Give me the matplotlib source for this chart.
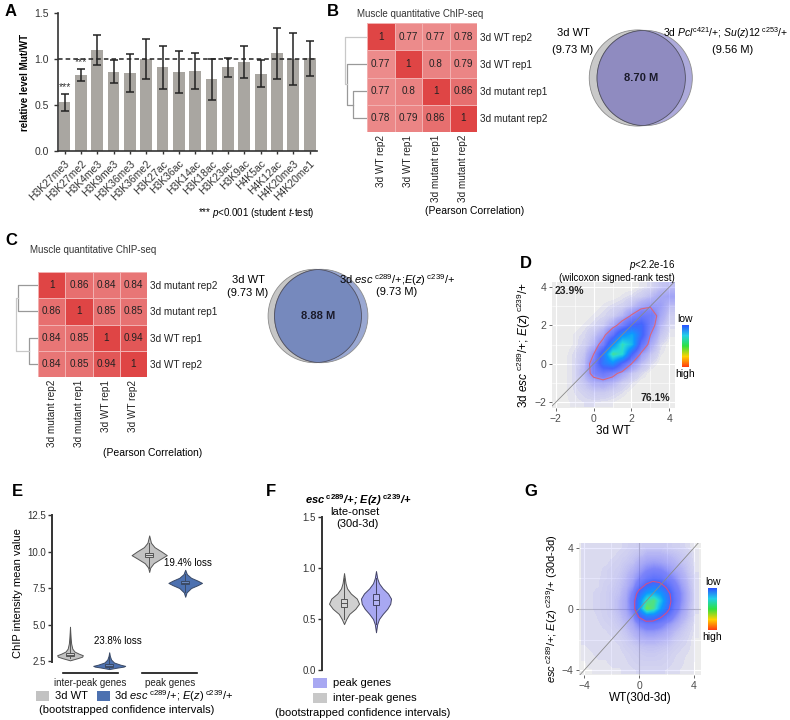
import numpy as np
import matplotlib
matplotlib.use("Agg")
import matplotlib.pyplot as plt
from matplotlib.patches import Circle, Rectangle
from matplotlib.colors import LinearSegmentedColormap, Normalize
from matplotlib.cm import ScalarMappable

plt.rcParams["font.family"] = ["Liberation Sans", "DejaVu Sans"]
plt.rcParams["mathtext.fontset"] = "custom"
plt.rcParams["mathtext.rm"] = "Liberation Sans"
plt.rcParams["mathtext.it"] = "Liberation Sans:italic"
plt.rcParams["mathtext.bf"] = "Liberation Sans:bold"
plt.rcParams["mathtext.bfit"] = "Liberation Sans:bold:italic"

# ---- panel A: histone marks, mutant / WT ----
marks = ["H3K27me3", "H3K27me2", "H3K4me3", "H3K9me3", "H3K36me3", "H3K36me2",
         "H3K27ac", "H3K36ac", "H3K14ac", "H3K18ac", "H3K23ac", "H3K9ac",
         "H4K5ac", "H4K12ac", "H4K20me3", "H4K20me1"]
rel_level = [0.53, 0.83, 1.10, 0.86, 0.85, 1.00, 0.91, 0.86, 0.87, 0.78,
             0.91, 0.97, 0.84, 1.06, 1.00, 1.01]
rel_err = [0.09, 0.065, 0.16, 0.125, 0.205, 0.215, 0.235, 0.225, 0.195, 0.225,
           0.105, 0.175, 0.145, 0.275, 0.285, 0.19]
significant = [True, True] + [False] * 14

# ---- panels B / C: correlation heatmaps and venns ----
b_names = ["3d WT rep2", "3d WT rep1", "3d mutant rep1", "3d mutant rep2"]
b_corr = [[1, 0.77, 0.77, 0.78],
          [0.77, 1, 0.8, 0.79],
          [0.77, 0.8, 1, 0.86],
          [0.78, 0.79, 0.86, 1]]
b_merges = [(2, 3), (1, 4), (0, 5)]
b_venn = (9.73, 9.56, 8.70)

c_names = ["3d mutant rep2", "3d mutant rep1", "3d WT rep1", "3d WT rep2"]
c_corr = [[1, 0.86, 0.84, 0.84],
          [0.86, 1, 0.85, 0.85],
          [0.84, 0.85, 1, 0.94],
          [0.84, 0.85, 0.94, 1]]
c_merges = [(0, 1), (2, 3), (4, 5)]
c_venn = (9.73, 9.73, 8.88)

d_x = [-2, -1.5, -1, -0.5, 0, 0.5, 1, 1.5, 2, 2.5, 3, 3.5, 4]
d_y = [4, 3.5, 3, 2.5, 2, 1.5, 1, 0.5, 0, -0.5, -1, -1.5, -2]
d_dens = [
    [0, 0, 0, 0, 0, 0, 0, 0, 0, 0.05, 0.1, 0.3, 0.4],
    [0, 0, 0, 0, 0, 0, 0, 0.05, 0.1, 0.2, 0.4, 0.8, 0.9],
    [0, 0, 0, 0, 0, 0.05, 0.1, 0.15, 0.35, 0.8, 1.1, 1.0, 0.4],
    [0, 0, 0, 0, 0.05, 0.1, 0.2, 0.5, 1.3, 2.2, 2.0, 0.8, 0.2],
    [0, 0, 0, 0.05, 0.1, 0.25, 0.7, 1.8, 3.5, 3.8, 1.8, 0.5, 0.1],
    [0, 0, 0.05, 0.1, 0.3, 0.8, 2.5, 5.5, 6.5, 4.0, 1.2, 0.3, 0.05],
    [0, 0, 0.05, 0.15, 0.5, 1.8, 5.5, 8.5, 7.0, 2.5, 0.7, 0.1, 0],
    [0, 0.02, 0.1, 0.3, 1.2, 4.5, 9.0, 8.0, 3.5, 1.0, 0.3, 0.05, 0],
    [0, 0.03, 0.1, 0.4, 1.8, 4.5, 5.5, 3.0, 1.2, 0.4, 0.1, 0, 0],
    [0, 0.03, 0.1, 0.5, 1.6, 2.2, 1.6, 0.8, 0.3, 0.1, 0, 0, 0],
    [0, 0.03, 0.1, 0.3, 0.6, 0.7, 0.5, 0.2, 0.08, 0, 0, 0, 0],
    [0.02, 0.03, 0.08, 0.15, 0.25, 0.25, 0.15, 0.08, 0, 0, 0, 0, 0],
    [0.02, 0.03, 0.05, 0.08, 0.08, 0.06, 0.04, 0, 0, 0, 0, 0, 0],
]

# ---- panel E: bootstrapped means (violin outlines: y, relative width) ----
e_wt_inter = ([2.55, 2.7, 2.8, 2.9, 3.0, 3.15, 3.35, 3.7, 4.1, 4.5, 4.85],
              [0, 0.6, 0.95, 1.0, 0.7, 0.35, 0.18, 0.09, 0.05, 0.02, 0])
e_mut_inter = ([1.95, 2.05, 2.12, 2.17, 2.25, 2.4, 2.6, 2.85, 3.1],
               [0, 0.5, 0.9, 1.0, 0.7, 0.3, 0.12, 0.04, 0])
e_wt_peak = ([8.6, 8.9, 9.2, 9.5, 9.75, 10.0, 10.3, 10.6, 11.1],
             [0, 0.06, 0.25, 0.65, 1.0, 0.7, 0.3, 0.1, 0])
e_mut_peak = ([6.9, 7.2, 7.5, 7.7, 7.85, 8.0, 8.2, 8.45, 8.75],
              [0, 0.08, 0.35, 0.75, 1.0, 0.75, 0.35, 0.1, 0])
e_boxes = [(2.82, 2.93, 3.05), (2.1, 2.18, 2.27), (9.6, 9.75, 9.9), (7.75, 7.85, 7.95)]
e_loss = ["23.8% loss", "19.4% loss"]

# ---- panel F: late-onset change ----
f_inter = ([0.45, 0.5, 0.55, 0.6, 0.65, 0.7, 0.75, 0.8, 0.85, 0.9, 0.95],
           [0, 0.15, 0.35, 0.75, 1.0, 0.85, 0.45, 0.2, 0.1, 0.05, 0])
f_peak = ([0.37, 0.45, 0.5, 0.55, 0.6, 0.65, 0.7, 0.75, 0.8, 0.85, 0.9, 0.97],
          [0, 0.08, 0.2, 0.45, 0.75, 0.95, 1.0, 0.8, 0.45, 0.2, 0.08, 0])
f_boxes = [(0.62, 0.66, 0.70), (0.64, 0.69, 0.75)]

# ---- panel G: density of WT vs mutant (30d-3d) ----
g_x = [-4, -3.5, -3, -2.5, -2, -1.5, -1, -0.5, 0, 0.5, 1, 1.5, 2, 2.5, 3, 3.5, 4]
g_y = [4, 3.5, 3, 2.5, 2, 1.5, 1, 0.5, 0, -0.5, -1, -1.5, -2, -2.5, -3, -3.5, -4]
g_dens = [
    [.05, .05, .05, .05, .05, .05, .08, .1, .12, .15, .15, .15, .12, .1, .08, .05, .02],
    [.05, .05, .05, .05, .05, .08, .1, .15, .2, .3, .3, .3, .25, .2, .15, .1, .03],
    [.05, .05, .05, .05, .08, .1, .15, .2, .35, .5, .55, .5, .4, .3, .2, .12, .03],
    [.05, .05, .05, .08, .1, .12, .2, .3, .55, .8, .9, .85, .65, .45, .3, .15, .04],
    [.05, .05, .06, .08, .1, .15, .25, .45, .8, 1.2, 1.4, 1.3, 1.0, .7, .4, .2, .05],
    [.05, .05, .06, .1, .12, .18, .3, .6, 1.3, 2.0, 2.4, 2.2, 1.6, 1.0, .55, .25, .05],
    [.05, .06, .08, .1, .15, .2, .4, .9, 2.3, 3.3, 3.6, 3.2, 2.3, 1.3, .7, .3, .06],
    [.05, .06, .08, .1, .15, .25, .45, 1.1, 3.0, 4.8, 5.2, 4.0, 2.5, 1.4, .7, .3, .06],
    [.05, .06, .08, .1, .15, .25, .45, 1.0, 3.2, 5.6, 5.0, 3.4, 2.2, 1.2, .6, .25, .05],
    [.05, .05, .07, .1, .12, .2, .35, .7, 1.9, 2.7, 2.6, 2.0, 1.4, .8, .4, .2, .04],
    [.05, .05, .06, .08, .1, .15, .25, .45, .9, 1.2, 1.2, 1.0, .7, .45, .25, .12, .03],
    [.05, .05, .05, .06, .08, .1, .18, .3, .5, .65, .65, .55, .4, .25, .15, .08, .03],
    [.05, .05, .05, .05, .06, .08, .12, .2, .3, .35, .35, .3, .25, .15, .1, .06, .02],
    [.04, .05, .05, .05, .05, .06, .1, .12, .18, .2, .2, .18, .15, .1, .07, .05, .02],
    [.03, .04, .05, .05, .05, .05, .07, .1, .12, .14, .14, .12, .1, .07, .05, .04, .02],
    [.02, .03, .04, .04, .05, .05, .06, .08, .1, .1, .1, .1, .08, .06, .05, .03, .02],
    [.02, .02, .03, .03, .04, .04, .05, .06, .07, .07, .07, .07, .06, .05, .04, .03, .02],
]

W, H = 790, 720
fig = plt.figure(figsize=(W / 100, H / 100), dpi=100)


def box(x0, y0, x1, y1):
    return fig.add_axes([x0 / W, 1 - y1 / H, (x1 - x0) / W, (y1 - y0) / H])


def T(x, y, s, **kw):
    kw.setdefault("va", "center")
    kw.setdefault("ha", "left")
    kw.setdefault("fontsize", 8)
    fig.text(x / W, 1 - y / H, s, **kw)


def fig_square(x0, y0, x1, y1, color):
    fig.add_artist(Rectangle((x0 / W, 1 - y1 / H), (x1 - x0) / W, (y1 - y0) / H,
                             transform=fig.transFigure, facecolor=color, edgecolor="none"))


for letter, x, y in [("A", 5, 11), ("B", 327, 12), ("C", 5, 241), ("D", 520, 263),
                     ("E", 12, 492), ("F", 266, 492), ("G", 524, 492)]:
    T(x, y, letter, fontsize=12, fontweight="bold")

# ================= A =================
ax = box(58, 13, 317, 151)
xpos = np.arange(len(marks))
ax.bar(xpos, rel_level, width=0.72, color="#a9a6a1")
ax.errorbar(xpos, rel_level, yerr=rel_err, fmt="none", ecolor="#222222",
            elinewidth=1.1, capsize=2.8, capthick=1.1)
for i, s in enumerate(significant):
    if s:
        ax.text(i, rel_level[i] + rel_err[i] + 0.02, "***", ha="center", va="bottom",
                fontsize=7.5, color="#333333")
ax.axhline(1.0, ls=(0, (3, 2)), color="#222222", lw=1.1)
ax.set_xlim(-0.4, 15.45)
ax.set_ylim(0, 1.5)
ax.set_yticks([0, 0.5, 1.0, 1.5])
ax.set_yticklabels(["0.0", "0.5", "1.0", "1.5"])
ax.set_xticks(xpos)
ax.set_xticklabels(marks, rotation=45, ha="right", rotation_mode="anchor")
ax.tick_params(axis="y", labelsize=7.5, length=3, width=1, colors="#333333")
ax.tick_params(axis="x", labelsize=7.5, length=2, width=1, colors="#333333")
for s in ["top", "right"]:
    ax.spines[s].set_visible(False)
for s in ["left", "bottom"]:
    ax.spines[s].set_linewidth(1.2)
    ax.spines[s].set_color("#333333")
ax.set_ylabel("relative level Mut/WT", fontsize=7, fontweight="bold", labelpad=3)
T(198, 213, r"*** $\mathit{p}$<0.001 (student $\mathit{t}$-test)", fontsize=7)

# ================= heatmaps =================
hm_cmap = LinearSegmentedColormap.from_list("hm", ["#f0a0a0", "#df4545"])


def heatmap(ax_h, ax_d, corr, names, merges):
    m = np.array(corr, dtype=float)
    n = len(names)
    ax_h.pcolormesh(np.arange(n + 1), np.arange(n + 1), m[::-1], cmap=hm_cmap,
                    vmin=0.7, vmax=1.0, edgecolors="#f2b0b0", linewidth=0.4)
    for i in range(n):
        for j in range(n):
            ax_h.text(j + 0.5, n - i - 0.5, f"{m[i, j]:g}", ha="center", va="center",
                      fontsize=7.2, color="#222222")
    ax_h.set_xlim(0, n)
    ax_h.set_ylim(0, n)
    ax_h.set_yticks(np.arange(n) + 0.5)
    ax_h.set_yticklabels(names[::-1])
    ax_h.yaxis.tick_right()
    ax_h.set_xticks(np.arange(n) + 0.5)
    ax_h.set_xticklabels(names, rotation=90)
    ax_h.tick_params(length=0, labelsize=7.2, pad=2, colors="#222222")
    for s in ax_h.spines.values():
        s.set_visible(False)

    # dendrogram, average linkage on 1 - r
    pos = {i: n - i - 0.5 for i in range(n)}
    hgt = {i: 0.0 for i in range(n)}
    members = {i: [i] for i in range(n)}
    links = []
    for k, (a, b) in enumerate(merges):
        h = 1 - np.mean([m[p, q] for p in members[a] for q in members[b]])
        links.append((a, b, h))
        pos[n + k] = (pos[a] + pos[b]) / 2
        hgt[n + k] = h
        members[n + k] = members[a] + members[b]
    hmax = max(l[2] for l in links)
    for k, (a, b, h) in enumerate(links):
        col = "#c8c8c8" if k == len(links) - 1 else "#999999"
        ax_d.plot([hgt[a], h, h, hgt[b]], [pos[a], pos[a], pos[b], pos[b]],
                  color=col, lw=0.9)
    ax_d.set_xlim(hmax / 0.93, 0)
    ax_d.set_ylim(0, n)
    ax_d.axis("off")


def lens_area(r1, r2, d):
    if d >= r1 + r2:
        return 0.0
    if d <= abs(r1 - r2):
        return np.pi * min(r1, r2) ** 2
    a1 = r1 ** 2 * np.arccos((d ** 2 + r1 ** 2 - r2 ** 2) / (2 * d * r1))
    a2 = r2 ** 2 * np.arccos((d ** 2 + r2 ** 2 - r1 ** 2) / (2 * d * r2))
    a3 = 0.5 * np.sqrt((-d + r1 + r2) * (d + r1 - r2) * (d - r1 + r2) * (d + r1 + r2))
    return a1 + a2 - a3


def venn(ax, sizes, c_left, c_right, c_mid, lim):
    s1, s2, s12 = sizes
    r1, r2 = np.sqrt(s1 / np.pi), np.sqrt(s2 / np.pi)
    lo, hi = abs(r1 - r2), r1 + r2
    for _ in range(60):
        mid = (lo + hi) / 2
        if lens_area(r1, r2, mid) > s12:
            lo = mid
        else:
            hi = mid
    d = (lo + hi) / 2
    cl, cr = (-d / 2, 0), (d / 2, 0)
    left = Circle(cl, r1, facecolor=c_left, edgecolor="#8c8c8c", lw=0.6)
    right = Circle(cr, r2, facecolor=c_right, edgecolor="#8c8c8c", lw=0.6)
    ax.add_patch(left)
    ax.add_patch(right)
    inner = Circle(cr, r2, facecolor=c_mid, edgecolor="#505060", lw=0.6)
    ax.add_patch(inner)
    inner.set_clip_path(left)
    rim = Circle(cl, r1, facecolor="none", edgecolor="#505060", lw=0.6)
    ax.add_patch(rim)
    rim.set_clip_path(right)
    ax.text(0, 0, f"{s12:.2f} M", ha="center", va="center", fontsize=8,
            fontweight="bold", color="#1a1a2a")
    ax.set_xlim(-lim, lim)
    ax.set_ylim(-lim, lim)
    ax.axis("off")


# ================= B =================
T(357, 14, "Muscle quantitative ChIP-seq", fontsize=7, color="#333333")
heatmap(box(367, 23, 477, 132), box(343, 23, 367, 132), b_corr, b_names, b_merges)
T(475, 211, "(Pearson Correlation)", ha="center", fontsize=7.5)
venn(box(576, 13, 706, 143), b_venn, "#c9c9c9", "#adaadb", "#8f8bc0", 2.38)
T(590, 33, "3d WT", ha="right")
T(593, 50, "(%.2f M)" % b_venn[0], ha="right")
T(788, 33, r"3d $\mathit{Pcl}^{\mathrm{c421}}$/+; $\mathit{Su(z)12}^{\ \mathrm{c253}}$/+",
  ha="right", fontsize=7.5)
T(733, 50, "(%.2f M)" % b_venn[1], ha="center")

# ================= C =================
T(30, 250, "Muscle quantitative ChIP-seq", fontsize=7, color="#333333")
heatmap(box(38, 272, 147, 377), box(14, 272, 38, 377), c_corr, c_names, c_merges)
T(153, 453, "(Pearson Correlation)", ha="center", fontsize=7.5)
venn(box(253, 251, 383, 381), c_venn, "#c6c6c6", "#9aa8d2", "#7689bd", 2.45)
T(248, 280, "3d WT", ha="center")
T(248, 293, "(%.2f M)" % c_venn[0], ha="center")
T(397, 280, r"3d $\mathit{esc}^{\ \mathrm{c289}}$/+;$\mathit{E(z)}^{\ \mathrm{c239}}$/+",
  ha="center")
T(397, 292, "(%.2f M)" % c_venn[1], ha="center")

# ================= density scatter helpers =================
dens_cmap = LinearSegmentedColormap.from_list("dens", [
    (0.0, (0.6, 0.6, 1.0, 0.0)),
    (0.01, (0.5, 0.5, 1.0, 0.22)),
    (0.05, (0.45, 0.45, 1.0, 0.45)),
    (0.15, (0.32, 0.36, 1.0, 0.72)),
    (0.35, (0.22, 0.35, 1.0, 0.92)),
    (0.6, (0.05, 0.6, 1.0, 1.0)),
    (0.8, (0.15, 0.85, 0.85, 1.0)),
    (1.0, (0.4, 0.9, 0.35, 1.0)),
])
cb_cmap = LinearSegmentedColormap.from_list(
    "cb", ["#ff3a10", "#ffd200", "#30e040", "#20d0e8", "#2a50ff"])


def density(ax, xs, ys, grid, vmax, level, ccol):
    g = np.array(grid, dtype=float)
    xs = np.array(xs, dtype=float)
    ys = np.array(ys, dtype=float)
    st = xs[1] - xs[0]
    ax.imshow(g, extent=[xs[0] - st / 2, xs[-1] + st / 2, ys[-1] - st / 2, ys[0] + st / 2],
              origin="upper", cmap=dens_cmap, norm=Normalize(vmin=0, vmax=vmax),
              interpolation="bilinear", aspect="auto", zorder=2)
    ax.contour(xs, ys[::-1], g[::-1], levels=[level], colors=ccol, linewidths=0.8, zorder=3)
    ax.axline((0, 0), slope=1, color="#8a8a8a", lw=0.6, zorder=4)
    for s in ax.spines.values():
        s.set_visible(False)
    ax.set_axisbelow(True)
    ax.tick_params(labelsize=7.5, length=2.5, width=0.6, colors="#4d4d4d", pad=1.5)
    ax.tick_params(which="minor", length=0)


def cbar(x0, y0, x1, y1):
    cax = box(x0, y0, x1, y1)
    cb = fig.colorbar(ScalarMappable(cmap=cb_cmap), cax=cax)
    cb.set_ticks([])
    cb.outline.set_visible(False)
    T((x0 + x1) / 2, y0 - 6, "low", ha="center", fontsize=7.5)
    T((x0 + x1) / 2, y1 + 7, "high", ha="center", fontsize=7.5)


# ================= D =================
ax = box(552, 282, 675, 408)
ax.set_facecolor("#ebebeb")
density(ax, d_x, d_y, d_dens, 10, 1.2, "#d9657c")
ax.set_xlim(-2.2, 4.3)
ax.set_ylim(-2.3, 4.26)
ax.set_xticks([-2, 0, 2, 4])
ax.set_yticks([-2, 0, 2, 4])
ax.set_xticks([-1, 1, 3], minor=True)
ax.set_yticks([-1, 1, 3], minor=True)
ax.grid(which="major", color="white", lw=0.8)
ax.grid(which="minor", color="white", lw=0.4)
ax.text(0.02, 0.97, "23.9%", transform=ax.transAxes, ha="left", va="top",
        fontsize=7.5, fontweight="bold", color="#222222", zorder=5)
ax.text(0.96, 0.04, "76.1%", transform=ax.transAxes, ha="right", va="bottom",
        fontsize=7.5, fontweight="bold", color="#222222", zorder=5)
ax.set_xlabel("3d WT", fontsize=8.5, labelpad=1)
ax.set_ylabel(r"3d $\mathit{esc}^{\ \mathrm{c289}}$/+; $\mathit{E(z)}^{\ \mathrm{c239}}$/+",
              fontsize=8.5, labelpad=1)
T(675, 265, r"$\mathit{p}$<2.2e-16", ha="right", fontsize=7)
T(675, 278, "(wilcoxon signed-rank test)", ha="right", fontsize=7)
cbar(682, 325, 689, 367)


# ================= violin helper =================
def violin(ax, x, prof, half, face, edge, qs, bw, box_face):
    ys = np.array(prof[0], dtype=float)
    ws = np.array(prof[1], dtype=float)
    ws = ws / ws.max() * half
    ax.fill_betweenx(ys, x - ws, x + ws, facecolor=face, edgecolor=edge, lw=0.7,
                     zorder=2, clip_on=False)
    ax.plot([x, x], [ys[1], ys[-2]], color=edge, lw=0.7, zorder=3, clip_on=False)
    q1, med, q3 = qs
    ax.add_patch(Rectangle((x - bw, q1), 2 * bw, q3 - q1, facecolor=box_face,
                           edgecolor=edge, lw=0.7, zorder=4, clip_on=False))
    ax.plot([x - bw, x + bw], [med, med], color=edge, lw=0.7, zorder=5, clip_on=False)


def left_axis(ax, lo, hi):
    for s in ["top", "right", "bottom"]:
        ax.spines[s].set_visible(False)
    ax.spines["left"].set_linewidth(1.4)
    ax.spines["left"].set_color("#333333")
    ax.spines["left"].set_bounds(lo, hi)
    ax.tick_params(axis="y", labelsize=7, length=3, width=1, colors="#333333", pad=1.5)


# ================= E =================
ax = box(52, 515, 200, 672)
gray_e, blue_e = "#c2c2c2", "#4d71b0"
violin(ax, -0.25, e_wt_inter, 0.16, gray_e, "#555555", e_boxes[0], 0.05, "#d2d2d2")
violin(ax, 0.24, e_mut_inter, 0.2, blue_e, "#3a4a66", e_boxes[1], 0.05, "#6a88bd")
violin(ax, 0.74, e_wt_peak, 0.22, gray_e, "#555555", e_boxes[2], 0.05, "#d2d2d2")
violin(ax, 1.19, e_mut_peak, 0.21, blue_e, "#3a4a66", e_boxes[3], 0.05, "#6a88bd")
ax.set_xlim(-0.475, 1.375)
ax.set_ylim(1.75, 12.5)
ax.set_yticks([2.5, 5.0, 7.5, 10.0, 12.5])
ax.set_yticklabels(["2.5", "5.0", "7.5", "10.0", "12.5"])
left_axis(ax, 2.43, 12.5)
ax.set_xticks([0.0, 1.0])
ax.set_xticklabels(["inter-peak genes", "peak genes"])
ax.tick_params(axis="x", length=0, pad=4, labelsize=7, colors="#222222")
ax.plot([-0.34, 0.35], [1.68, 1.68], color="#111111", lw=1.2, clip_on=False, zorder=1)
ax.plot([0.65, 1.34], [1.68, 1.68], color="#111111", lw=1.2, clip_on=False, zorder=1)
ax.set_ylabel("ChIP intensity mean value", fontsize=8, labelpad=3)
T(118, 641, e_loss[0], ha="center", fontsize=7)
T(188, 563, e_loss[1], ha="center", fontsize=7)
fig_square(36, 691, 49, 701, gray_e)
T(55, 696, "3d WT")
fig_square(97, 691, 110, 701, blue_e)
T(114, 696, r"3d $\mathit{esc}^{\ \mathrm{c289}}$/+; $\mathit{E(z)}^{\ \mathrm{c239}}$/+")
T(127, 710, "(bootstrapped confidence intervals)", ha="center")

# ================= F =================
ax = box(322, 517, 430, 670)
violin(ax, 0, f_inter, 0.47, "#d0d0d0", "#555555", f_boxes[0], 0.09, "#d8d8d8")
violin(ax, 1, f_peak, 0.47, "#a8a8f2", "#444466", f_boxes[1], 0.09, "#b4b4f4")
ax.set_xlim(-0.69, 2.69)
ax.set_ylim(0, 1.5)
ax.set_yticks([0, 0.5, 1.0, 1.5])
ax.set_yticklabels(["0.0", "0.5", "1.0", "1.5"])
ax.set_xticks([])
left_axis(ax, 0, 1.5)
T(358, 500, r"$\mathbfit{esc}^{\ \mathbf{c289}}$/+; $\mathbfit{E(z)}^{\ \mathbf{c239}}$/+",
  ha="center", fontweight="bold", fontstyle="italic")
T(355, 512, "late-onset", ha="center")
T(357, 524, "(30d-3d)", ha="center")
fig_square(313, 678, 327, 688, "#a8a8f2")
T(333, 683, "peak genes")
fig_square(313, 693, 327, 703, "#c8c8c8")
T(333, 698, "inter-peak genes")
T(363, 713, "(bootstrapped confidence intervals)", ha="center")

# ================= G =================
ax = box(579, 543, 701, 675)
ax.set_facecolor("#ececec")
density(ax, g_x, g_y, g_dens, 5.5, 1.8, "#d0508a")
ax.axhline(0, color="#bdbdbd", lw=0.8, zorder=1)
ax.axvline(0, color="#bdbdbd", lw=0.8, zorder=1)
ax.set_xlim(-4.36, 4.5)
ax.set_ylim(-4.3, 4.3)
ax.set_xticks([-4, 0, 4])
ax.set_yticks([-4, 0, 4])
ax.set_xticks([-2, 2], minor=True)
ax.set_yticks([-2, 2], minor=True)
ax.grid(which="major", color="white", lw=0.8)
ax.grid(which="minor", color="white", lw=0.5)
ax.set_xlabel("WT(30d-3d)", fontsize=8.5, labelpad=1)
ax.set_ylabel(r"$\mathit{esc}^{\ \mathrm{c289}}$/+; $\mathit{E(z)}^{\ \mathrm{c239}}$/+ (30d-3d)",
              fontsize=8, labelpad=1)
cbar(708, 588, 717, 630)

fig.savefig("out.png", dpi=100, facecolor="white")
